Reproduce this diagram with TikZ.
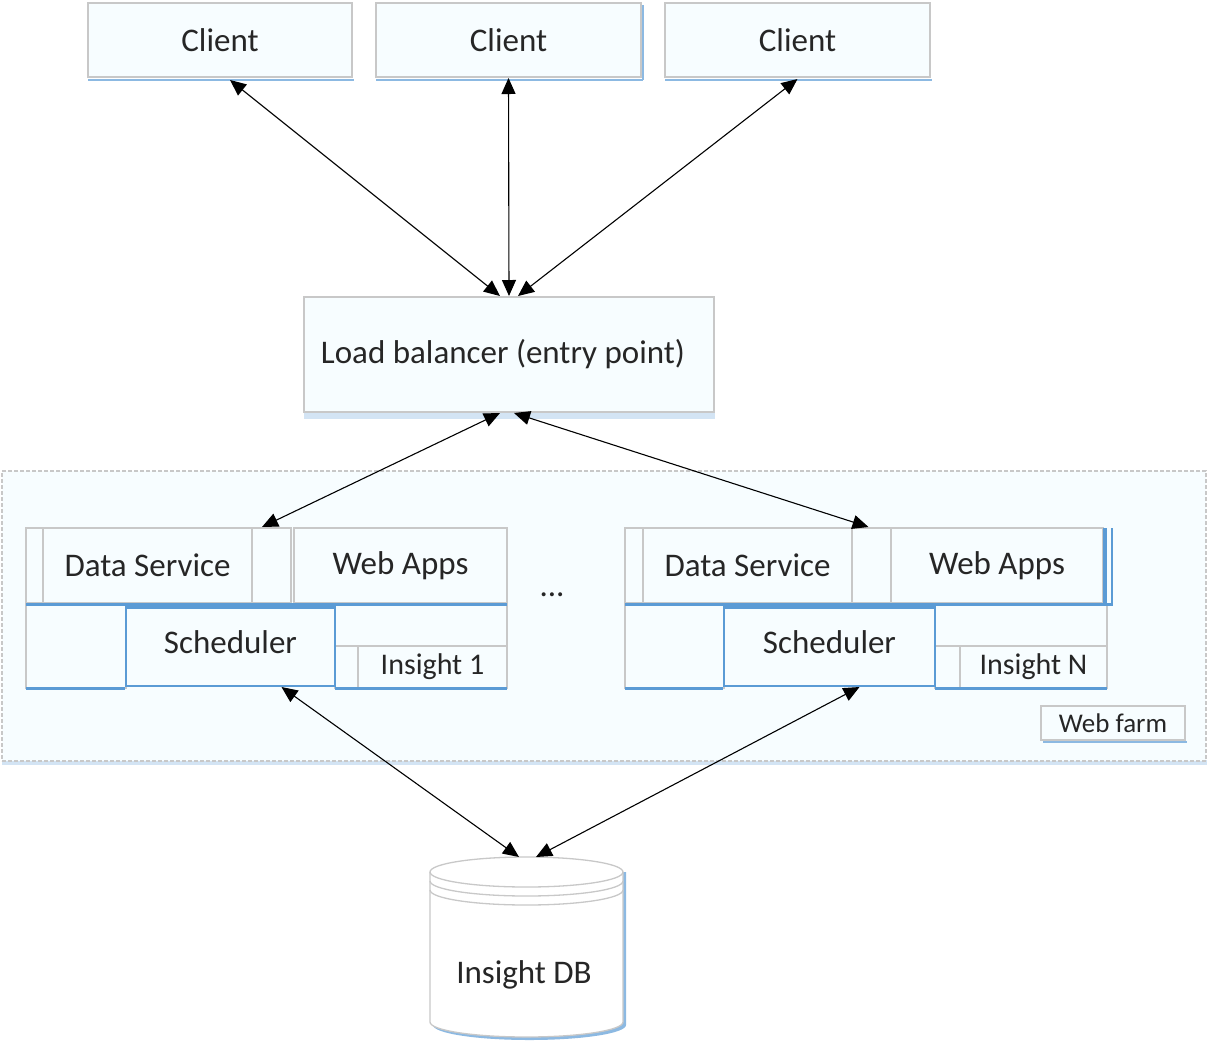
\documentclass[tikz,border=0pt]{standalone}
\usepackage{fontspec}
\setmainfont{Carlito}
\usetikzlibrary{arrows.meta,calc}
\definecolor{bgray}{HTML}{C8C8C8}
\definecolor{bfill}{HTML}{F7FDFF}
\definecolor{bblue}{HTML}{5B9BD5}
\definecolor{lblue}{HTML}{D3E4F4}
\definecolor{tcol}{HTML}{262626}
\begin{document}
\begin{tikzpicture}[x=1pt,y=-1pt,
  cell/.style={draw=bgray,line width=1.3pt,fill=bfill,inner sep=0pt,outer sep=0pt,anchor=north west,text=tcol,font=\fontsize{33}{38}\selectfont},
  small/.style={font=\fontsize{30}{35}\selectfont},
  bline/.style={draw=bblue,line width=3pt},
  shline/.style={draw=bblue!70,line width=2pt},
  conn/.style={draw=black,line width=1.1pt,{Triangle[length=16pt,width=14pt]}-{Triangle[length=16pt,width=14pt]}}]
\useasboundingbox (0,0) rectangle (1207,1045);
% clients
\node[cell,minimum width=264pt,minimum height=74pt] (c1) at (88,3) {Client};
\node[cell,minimum width=265pt,minimum height=74pt] (c2) at (376,3) {Client};
\node[cell,minimum width=265pt,minimum height=74pt] (c3) at (665,3) {Client};
\draw[shline] (88,80) -- (354,80);
\draw[shline] (376,80) -- (643,80);
\draw[shline] (643,5) -- (643,80);
\draw[shline] (665,80) -- (932,80);
% load balancer
\fill[lblue] (304,412) rectangle (715,419);
\node[cell,minimum width=410pt,minimum height=115pt] (lb) at (304,297) {\hspace*{-12pt}Load balancer (entry point)};
% web farm container
\fill[lblue] (2,760) rectangle (1207,765);
\node[cell,dashed,dash pattern=on 4pt off 2pt,minimum width=1204pt,minimum height=290pt] (wf) at (2,471) {};
% left group
\node[cell,minimum width=17pt,minimum height=75pt] (a1) at (26,528) {};
\node[cell,minimum width=209pt,minimum height=75pt] (ds1) at (43,528) {Data Service};
\node[cell,minimum width=39pt,minimum height=75pt] (g1) at (252,528) {};
\node[cell,minimum width=213pt,minimum height=75pt] (wa1) at (294,528) {Web Apps};
\node[cell,minimum width=100pt,minimum height=83pt] (l1) at (26,605) {};
\node[cell,minimum width=172pt,minimum height=41pt] (r1) at (335,605) {};
\node[cell,minimum width=23pt,minimum height=42pt] (s1) at (335,646) {};
\node[cell,small,minimum width=149pt,minimum height=42pt] (in1) at (358,646) {\raisebox{3pt}{Insight 1}};
\node[cell,draw=bblue,line width=1.2pt,minimum width=209pt,minimum height=81pt] (sch1) at (126,605) {\raisebox{6pt}{Scheduler}};
\draw[bline] (26,604) -- (507,604);
\draw[bline] (126,607) -- (335,607);
\draw[bline] (26,688) -- (125,688);
\draw[bline] (335,688) -- (507,688);
% right group
\node[cell,minimum width=18pt,minimum height=75pt] (a2) at (625,528) {};
\node[cell,minimum width=209pt,minimum height=75pt] (ds2) at (643,528) {Data Service};
\node[cell,minimum width=39pt,minimum height=75pt] (g2) at (852,528) {};
\node[cell,minimum width=212pt,minimum height=75pt] (wa2) at (891,528) {Web Apps};
\node[cell,minimum width=99pt,minimum height=83pt] (l2) at (625,605) {};
\node[cell,minimum width=172pt,minimum height=41pt] (r2) at (935,605) {};
\node[cell,minimum width=25pt,minimum height=42pt] (s2) at (935,646) {};
\node[cell,small,minimum width=147pt,minimum height=42pt] (in2) at (960,646) {\raisebox{3pt}{Insight N}};
\node[cell,draw=bblue,line width=1.2pt,minimum width=211pt,minimum height=81pt] (sch2) at (724,605) {\raisebox{6pt}{Scheduler}};
\draw[bline] (625,604) -- (1113,604);
\draw[bblue,line width=4pt] (1105,528) -- (1105,604);
\draw[bblue,line width=1.5pt] (1112,528) -- (1112,604);
\draw[bline] (724,607) -- (935,607);
\draw[bline] (625,688) -- (723,688);
\draw[bline] (935,688) -- (1107,688);
% dots
\node[text=tcol,font=\fontsize{33}{38}\selectfont] (dots) at (552,595) {...};
% web farm label
\draw[shline] (1043,742) -- (1187,742);
\node[cell,minimum width=144pt,minimum height=34pt,font=\fontsize{27}{31}\selectfont] (wfl) at (1041,706) {Web farm};
% database
\path[fill=bblue!70] (433,872) -- (433,1025) arc[start angle=180,end angle=0,x radius=96.5,y radius=15] -- (626,872) -- cycle;
\path[draw=bgray,line width=1.3pt,fill=white] (430,872) -- (430,1022) arc[start angle=180,end angle=0,x radius=96.5,y radius=15] -- (623,872) arc[start angle=0,end angle=-180,x radius=96.5,y radius=15] -- cycle;
\draw[bgray,line width=1.3pt] (430,872) arc[start angle=180,end angle=0,x radius=96.5,y radius=15];
\draw[bgray,line width=1.3pt] (430,881) arc[start angle=180,end angle=0,x radius=96.5,y radius=15];
\draw[bgray,line width=1.3pt] (430,890) arc[start angle=180,end angle=0,x radius=96.5,y radius=15];
\node[text=tcol,font=\fontsize{33}{38}\selectfont] (db) at (524,975) {Insight DB};
\coordinate (dbL) at (519,857);
\coordinate (dbR) at (536,857);
% connectors
\draw[conn] ($(c1.south)+(10,3)$) -- ($(lb.north)+(-9,-1)$);
\draw[conn] ($(c2.south)+(0,1)$) -- ($(lb.north)+(0,-1)$);
\draw[conn] ($(c3.south)+(0,2)$) -- ($(lb.north)+(9,-1)$);
\draw[conn] ($(lb.south)+(-9,1)$) -- ($(ds1.north east)+(10,-1)$);
\draw[conn] ($(lb.south)+(5,1)$) -- ($(g2.north)+(-3,-1)$);
\draw[conn] ($(sch1.south)+(51,1)$) -- (dbL);
\draw[conn] ($(sch2.south)+(30,1)$) -- (dbR);
\end{tikzpicture}
\end{document}
